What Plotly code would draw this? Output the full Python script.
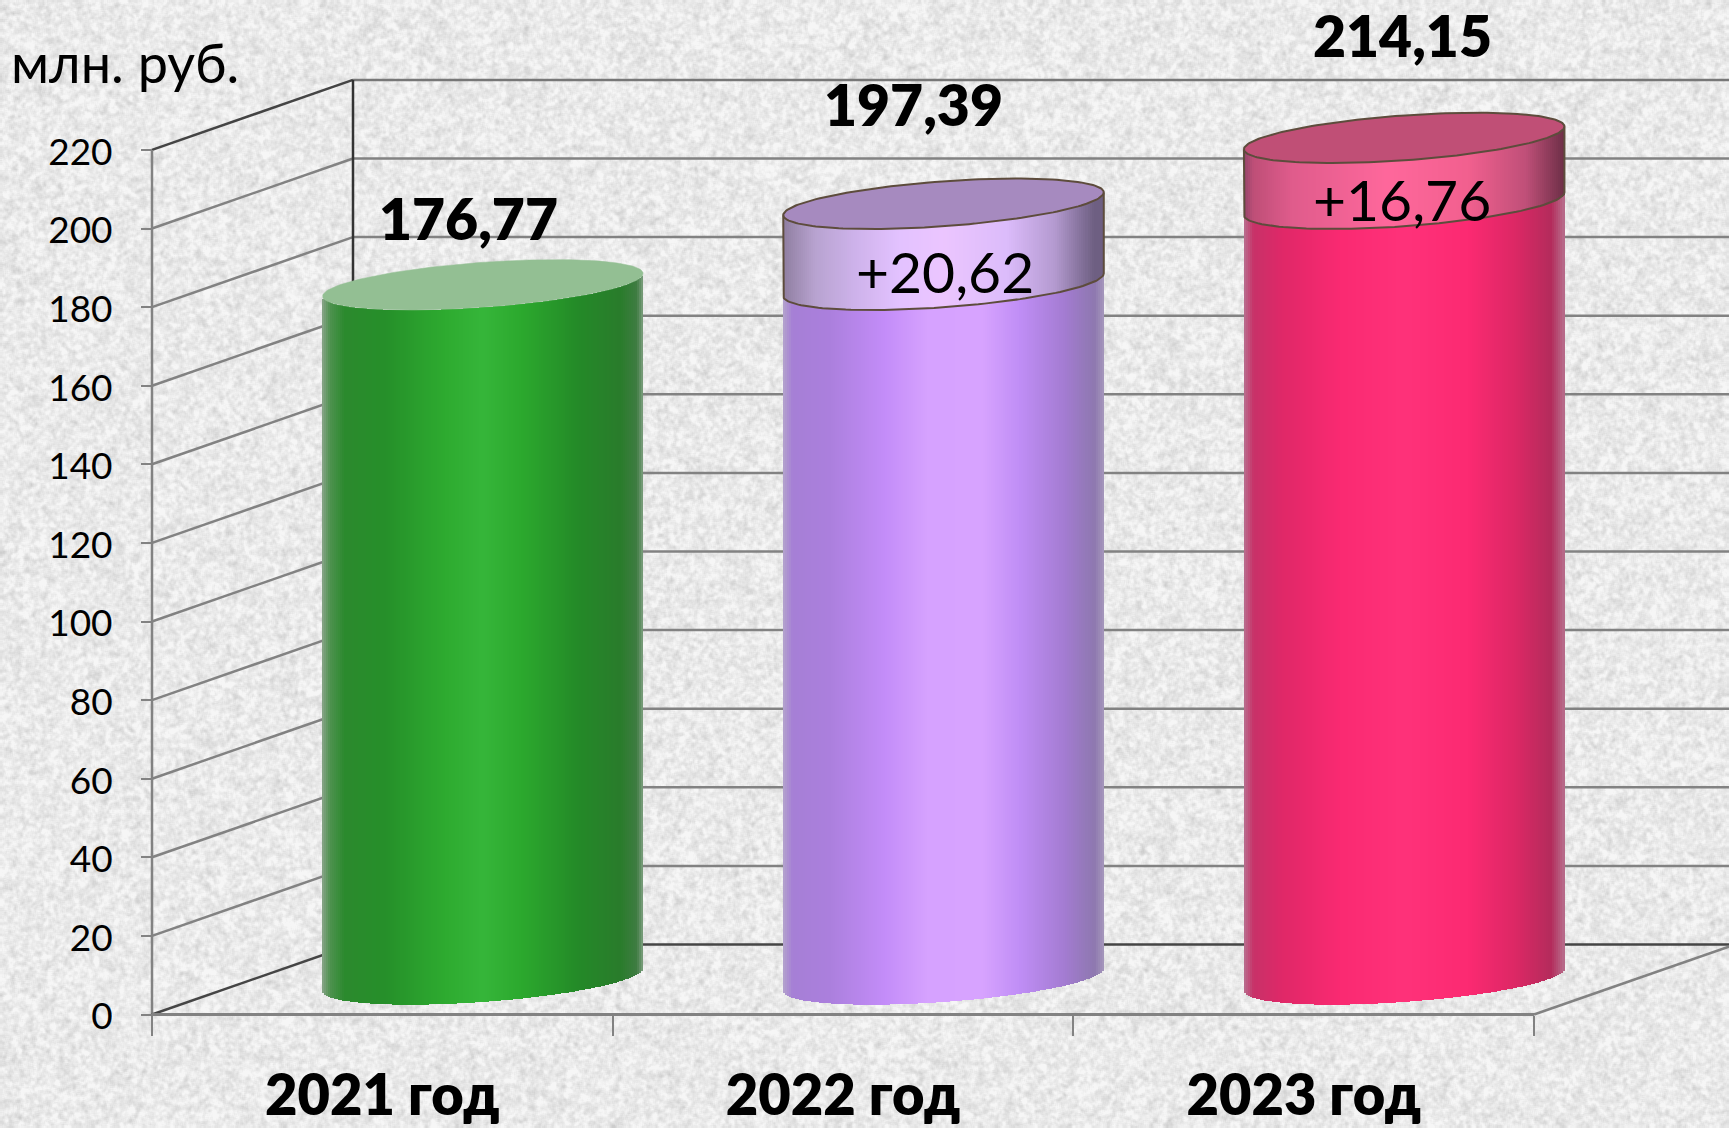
import base64
import struct
import zlib

import numpy as np
import plotly.graph_objects as go

# ---------- data ----------
categories = ["2021 год", "2022 год", "2023 год"]
totals = [176.77, 197.39, 214.15]
increments = [None, 20.62, 16.76]
total_labels = ["176,77", "197,39", "214,15"]
increment_labels = [None, "+20,62", "+16,76"]
y_ticks = [0, 20, 40, 60, 80, 100, 120, 140, 160, 180, 200, 220]
unit_label = "млн. руб."

# ---------- page and projection ----------
W, H = 1729, 1128
X0_PX, Y0_PX = 152.0, 1014.5
CAT_PX, VAL_PX = 460.67, 3.93
DEPTH_X, DEPTH_V = 201 / CAT_PX, 70 / VAL_PX
R_X = 143 / CAT_PX
DIAM = 0.72
UX, UV = DIAM / 2 * DEPTH_X, DIAM / 2 * DEPTH_V
A = np.hypot(R_X, UX)
PHI = np.arctan2(UX, R_X)
FONT = "Lato, 'Noto Sans', sans-serif"
GRID = "#828282"
DARK = "#454545"


def px_x(p):
    return (p - X0_PX) / CAT_PX


def px_y(p):
    return (Y0_PX - p) / VAL_PX


# ---------- paper texture (pure decoration, deterministic) ----------
def box(a, k):
    for axis in (0, 1):
        c = np.cumsum(np.concatenate([np.take(a, [-1], axis) * 0, a], axis), axis)
        a = (np.take(c, range(k, a.shape[axis] + 1), axis) - np.take(c, range(0, a.shape[axis] - k + 1), axis)) / k
        pad = [(0, 0), (0, 0)]
        pad[axis] = (k // 2, k - 1 - k // 2)
        a = np.pad(a, pad, mode="edge")
    return a


def texture():
    yy, xx = np.mgrid[0:H, 0:W].astype(float)
    n1 = np.sin(xx * 12.9898 + yy * 78.233) * 43758.5453
    n1 -= np.floor(n1)
    n2 = np.sin(xx * 39.346 + yy * 11.135) * 24634.6345
    n2 -= np.floor(n2)
    fine = box(n1, 3)
    coarse = box(box(n2, 5), 3)
    fine = (fine - fine.mean()) / fine.std()
    coarse = (coarse - coarse.mean()) / coarse.std()
    g = 234 + 4 * fine + 6 * coarse
    g = np.clip(g, 205, 246).astype(np.uint8)
    raw = b"".join(b"\x00" + row.tobytes() for row in g)

    def chunk(t, d):
        return struct.pack(">I", len(d)) + t + d + struct.pack(">I", zlib.crc32(t + d) & 0xffffffff)

    png = b"\x89PNG\r\n\x1a\n" + chunk(b"IHDR", struct.pack(">IIBBBBB", W, H, 8, 0, 0, 0, 0)) + \
        chunk(b"IDAT", zlib.compress(raw, 6)) + chunk(b"IEND", b"")
    return "data:image/png;base64," + base64.b64encode(png).decode()


# ---------- gradient helpers ----------
def hex_rgb(h):
    return [int(h[i:i + 2], 16) for i in (1, 3, 5)]


def gradient(stops, ts):
    pos = [s[0] for s in stops]
    rgb = np.array([hex_rgb(s[1]) for s in stops], float)
    return [f"rgb({int(np.interp(t, pos, rgb[:, 0]))},{int(np.interp(t, pos, rgb[:, 1]))},{int(np.interp(t, pos, rgb[:, 2]))})" for t in ts]


body_grad = [
    [(0, "#8aa58a"), (.025, "#4f9250"), (.07, "#2c8a2e"), (.2, "#26902a"), (.38, "#2eab30"), (.5, "#36b63a"),
     (.62, "#2ca92e"), (.8, "#248a28"), (.93, "#2a7c2c"), (.98, "#3f7c42"), (1, "#7d9f7f")],
    [(0, "#b4a4cc"), (.03, "#a67fd6"), (.15, "#ac80de"), (.32, "#c48df9"), (.45, "#d6a2ff"), (.62, "#d8a4ff"),
     (.74, "#c08ef6"), (.88, "#a47cd2"), (.97, "#8e78b0"), (1, "#a698bc")],
    [(0, "#b87090"), (.03, "#c83268"), (.12, "#e02868"), (.3, "#fa2a72"), (.5, "#ff327a"), (.7, "#fc2a72"),
     (.85, "#dc2865"), (.96, "#b42c5c"), (1, "#b86e8c")],
]
band_grad = [
    None,
    [(0, "#8f7ea0"), (.1, "#b8a3d0"), (.22, "#cdb2ea"), (.36, "#e3c2ff"), (.5, "#ecc6ff"), (.7, "#dcbcfb"),
     (.85, "#b49ad0"), (.97, "#6e5f82"), (1, "#6e5f82")],
    [(0, "#94466a"), (.03, "#bf4f78"), (.15, "#e05c8c"), (.45, "#ff689c"), (.7, "#f2608f"), (.88, "#c05079"),
     (.98, "#7c3550"), (1, "#6e3048")],
]
cap_colors = ["#93bf93", "#a68abf", "#c04f76"]
EDGE = "#5d4c3c"

fig = go.Figure()


def centre(i, value):
    return i + .5 + .5 * DEPTH_X, value + .5 * DEPTH_V


def lower_arc(xs, cx, vc):
    u = np.clip((xs - cx) / A, -1, 1)
    return vc + UV * np.sin(PHI + 2 * np.pi - np.arccos(u))


def ellipse(cx, vc, t):
    return cx + R_X * np.cos(t) + UX * np.sin(t), vc + UV * np.sin(t)


STEP = 2 / CAT_PX
for i, total in enumerate(totals):
    cx, vbase = centre(i, 0)
    n = int(round(2 * A / STEP))
    xs = cx - A + (np.arange(n) + .5) * (2 * A / n)
    ts = (xs - (cx - A)) / (2 * A)
    inc = increments[i]
    body_top = total - inc if inc else total
    low = lower_arc(xs, cx, vbase)
    high = lower_arc(xs, cx, centre(i, body_top)[1])
    fig.add_trace(go.Bar(x=xs, y=high - low, base=low, width=STEP * 1.25,
                         marker=dict(color=gradient(body_grad[i], ts), line_width=0), showlegend=False))
    t = np.linspace(0, 2 * np.pi, 181)
    ex, ev = ellipse(cx, centre(i, total)[1], t)
    if inc:
        band_low = high
        band_high = lower_arc(xs, cx, centre(i, total)[1])
        fig.add_trace(go.Bar(x=xs, y=band_high - band_low, base=band_low, width=STEP * 1.25,
                             marker=dict(color=gradient(band_grad[i], ts), line_width=0), showlegend=False))
        # lower rim of the band and its two sides
        rim_t = np.linspace(np.pi + PHI, 2 * np.pi + PHI, 80)
        rx, rv = ellipse(cx, centre(i, body_top)[1], rim_t)
        tx, tv = ellipse(cx, centre(i, total)[1], rim_t)
        fig.add_trace(go.Scatter(x=[tx[0], *rx, tx[-1]], y=[tv[0], *rv, tv[-1]], mode="lines",
                                 line=dict(color=EDGE, width=2), showlegend=False))
    fig.add_trace(go.Scatter(x=ex, y=ev, mode="lines", fill="toself", fillcolor=cap_colors[i],
                             line=dict(color=EDGE if inc else cap_colors[i], width=2 if inc else .5),
                             showlegend=False))


# ---------- 3D frame, from the same scales ----------
def seg(x0, y0, x1, y1, color=GRID, width=2.5):
    fig.add_shape(type="line", xref="x", yref="y", x0=x0, y0=y0, x1=x1, y1=y1, layer="below",
                  line=dict(color=color, width=width))


n_cat = len(categories)
top = y_ticks[-1]
for v in y_ticks[1:]:
    seg(DEPTH_X, v + DEPTH_V, n_cat + DEPTH_X, v + DEPTH_V, "#777777" if v == top else GRID)
    seg(0, v, DEPTH_X, v + DEPTH_V, "#444444" if v == top else GRID)
seg(0, 0, 0, top)
seg(DEPTH_X, DEPTH_V, DEPTH_X, top + DEPTH_V, "#333333")
seg(0, 0, DEPTH_X, DEPTH_V, DARK)
seg(DEPTH_X, DEPTH_V, n_cat + DEPTH_X, DEPTH_V, DARK)
seg(0, 0, n_cat, 0, width=3)
seg(n_cat, 0, n_cat + DEPTH_X, DEPTH_V)

# ---------- text ----------
total_px = [(468, 218), (913, 104), (1402, 35)]
inc_px = [None, (945, 271), (1402, 199)]
for i, lab in enumerate(total_labels):
    fig.add_annotation(x=px_x(total_px[i][0]), y=px_y(total_px[i][1]), text=lab, showarrow=False,
                       font=dict(family=FONT, size=57, color="#000000", weight=800))
    if increment_labels[i]:
        fig.add_annotation(x=px_x(inc_px[i][0]), y=px_y(inc_px[i][1]), text=increment_labels[i], showarrow=False,
                           font=dict(family=FONT, size=57, color="#000000"))
fig.add_annotation(xref="paper", yref="paper", x=9 / W, y=1 - 63 / H, xanchor="left", yanchor="middle",
                   text=unit_label, showarrow=False, font=dict(family=FONT, size=54, color="#000000"))

fig.update_layout(
    width=W, height=H, margin=dict(l=0, r=0, t=0, b=0), autosize=False,
    paper_bgcolor="#ebebe9", plot_bgcolor="rgba(0,0,0,0)", barmode="overlay", bargap=0,
    hovermode=False, showlegend=False,
    images=[dict(source=texture(), xref="paper", yref="paper", x=0, y=1, sizex=1, sizey=1,
                 sizing="stretch", layer="below", xanchor="left", yanchor="top")],
    xaxis=dict(range=[px_x(0), px_x(W)], domain=[0, 1], anchor="free", position=(H - Y0_PX) / H,
               tickmode="array", tickvals=[i + .5 for i in range(n_cat)], ticktext=categories,
               ticks="", showgrid=False, zeroline=False, showline=False, automargin=False,
               ticklabelstandoff=43, tickfont=dict(family=FONT, size=56, color="#000000", weight=800),
               minor=dict(tickmode="array", tickvals=list(range(n_cat + 1)), ticks="outside", ticklen=20,
                          tickwidth=2, tickcolor=GRID, showgrid=False)),
    yaxis=dict(range=[px_y(H), px_y(0)], domain=[0, 1], anchor="free", position=X0_PX / W,
               tickmode="array", tickvals=y_ticks, ticks="outside", ticklen=11, tickwidth=2, tickcolor=GRID,
               showgrid=False, zeroline=False, showline=False, automargin=False,
               ticklabelstandoff=21, ticklabelshift=2, tickfont=dict(family=FONT, size=37, color="#000000")),
)

fig.write_html("out.html", config=dict(displayModeBar=False, staticPlot=True),
               post_script="document.body.style.margin='0';document.documentElement.style.overflow='hidden';")
